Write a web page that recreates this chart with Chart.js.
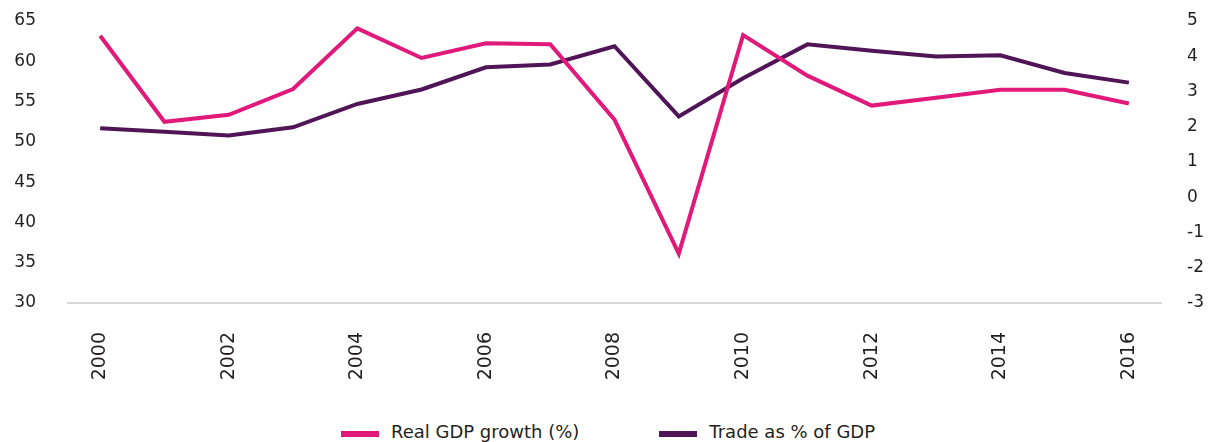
<!DOCTYPE html>
<html>
<head>
<meta charset="utf-8">
<script src="https://cdn.jsdelivr.net/npm/chart.js@4/dist/chart.umd.min.js"></script>
<style>
  html, body { margin: 0; padding: 0; background: #fff; }
  #wrap { position: relative; width: 1212px; height: 442px; }
  #box { position: absolute; left: 0; top: 0; width: 1212px; height: 400px; }
  #legend {
    position: absolute; left: 2px; top: 421px; width: 1212px; height: 22px;
    display: flex; justify-content: center; align-items: center;
    font-family: "DejaVu Sans", sans-serif; font-size: 18px; color: #231f20;
    line-height: 22px;
  }
  .item { display: flex; align-items: center; }
  .item + .item { margin-left: 80px; }
  .swatch { display: inline-block; width: 38px; height: 6px; margin-right: 12px; margin-top: 4px; }
</style>
</head>
<body>
<div id="wrap">
  <div id="box"><canvas id="chart"></canvas></div>
  <div id="legend"></div>
</div>
<script>
// years on the x axis
var years = ['2000', '2001', '2002', '2003', '2004', '2005', '2006', '2007', '2008',
             '2009', '2010', '2011', '2012', '2013', '2014', '2015', '2016'];

// right axis, %
var gdpGrowth = [4.58, 2.14, 2.34, 3.07, 4.79, 3.95, 4.37, 4.34, 2.2,
                 -1.6, 4.6, 3.45, 2.6, 2.82, 3.05, 3.05, 2.66];

// left axis, % of GDP
var tradeShare = [51.7, 51.25, 50.8, 51.8, 54.7, 56.5, 59.25, 59.6, 61.87,
                  53.16, 57.9, 62.1, 61.3, 60.6, 60.75, 58.55, 57.35];

var leftTicks = [30, 65, 5];
var rightTicks = [-3, 5, 1];

var pink = '#e0197b';
var purple = '#4f1556';
var textColor = '#231f20';
var fontName = '"DejaVu Sans", sans-serif';

// tick padding would otherwise also be added above the plot
function fixY(width) {
    return function (scale) {
        scale.width = width;
        scale.paddingTop = 0;
        scale.paddingBottom = 0;
    };
}

var ctx = document.getElementById('chart').getContext('2d');
var chart = new Chart(ctx, {
    type: 'line',
    data: {
        labels: years,
        datasets: [{
            label: 'Real GDP growth (%)',
            data: gdpGrowth,
            borderColor: pink,
            backgroundColor: pink,
            borderWidth: 4,
            pointRadius: 0,
            yAxisID: 'yRight'
        }, {
            label: 'Trade as % of GDP',
            data: tradeShare,
            borderColor: purple,
            backgroundColor: purple,
            borderWidth: 4,
            pointRadius: 0,
            yAxisID: 'yLeft'
        }]
    },
    options: {
        responsive: true,
        maintainAspectRatio: false,
        animation: false,
        layout: { padding: { top: 21, left: 0, right: 0, bottom: 0 } },
        plugins: {
            legend: { display: false },
            tooltip: { enabled: false }
        },
        scales: {
            x: {
                offset: true,
                grid: { display: false, drawTicks: false },
                border: { display: true, color: '#d9d9d9', width: 2 },
                ticks: {
                    autoSkip: false,
                    minRotation: 90,
                    maxRotation: 90,
                    padding: 29,
                    color: textColor,
                    font: { family: fontName, size: 19 },
                    callback: function (value, index) {
                        return index % 2 === 0 ? this.getLabelForValue(value) : '';
                    }
                },
                afterFit: function (scale) { scale.height = 97; }
            },
            yLeft: {
                position: 'left',
                min: leftTicks[0],
                max: leftTicks[1],
                grid: { display: false, drawTicks: false },
                border: { display: false },
                ticks: {
                    stepSize: leftTicks[2],
                    padding: 32,
                    color: textColor,
                    font: { family: fontName, size: 17 }
                },
                afterFit: fixY(68)
            },
            yRight: {
                position: 'right',
                min: rightTicks[0],
                max: rightTicks[1],
                grid: { display: false, drawTicks: false },
                border: { display: false },
                ticks: {
                    stepSize: rightTicks[2],
                    padding: 26,
                    color: textColor,
                    font: { family: fontName, size: 17 }
                },
                afterFit: fixY(51)
            }
        }
    }
});

// html legend, built from the datasets
var legend = document.getElementById('legend');
chart.data.datasets.forEach(function (ds) {
    var item = document.createElement('span');
    item.className = 'item';
    var sw = document.createElement('span');
    sw.className = 'swatch';
    sw.style.background = ds.borderColor;
    item.appendChild(sw);
    item.appendChild(document.createTextNode(ds.label));
    legend.appendChild(item);
});
</script>
</body>
</html>
